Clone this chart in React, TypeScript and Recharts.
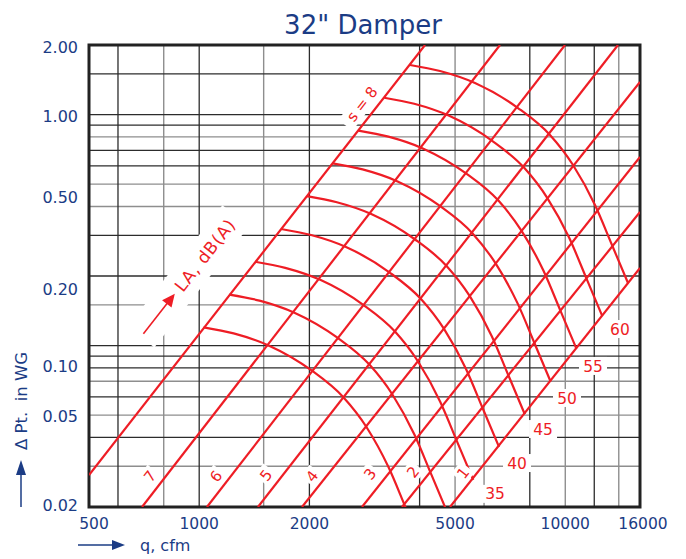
import React from 'react'
import {
  LineChart, Line, XAxis, YAxis, CartesianGrid,
  ReferenceArea, ReferenceDot,
} from 'recharts'

const NAVY = '#1b3c85'
const RED = '#ee1d25'
const FONT = '"DejaVu Sans", Verdana, sans-serif'

const qTicks = [500, 1000, 2000, 5000, 10000, 16000]
const dpTicks = [0.02, 0.05, 0.1, 0.2, 0.5, 1, 2]

// the printed tick texts sit a little off their grid lines in the original
const qTickShift: Record<number, number> = { 500: 5, 16000: 3 }
const dpTickShift: Record<number, number> = { 2: 2, 1: 1.5, 0.5: 13, 0.2: 13, 0.1: 21, 0.05: 1, 0.02: -2 }

const qGridDark = [600, 1000, 2000, 4000, 8000, 12000]
const qGridLight = [800, 1500, 5000, 6000, 10000, 14000]
const dpGridDark = [1.5, 1, 0.9, 0.7, 0.6, 0.3, 0.2, 0.1, 0.09, 0.08, 0.06, 0.04]
const dpGridLight = [0.8, 0.5, 0.4, 0.15, 0.07, 0.05, 0.03]

const zip = (q: number[], dp: number[]) => q.map((v, i) => ({ q: v, dp: dp[i] }))

// damper position lines s = 1..8, read where they meet the plot edges
const s8 = zip([500, 4139], [0.0275, 2])
const s7 = zip([698, 6632], [0.02, 2])
const s6 = zip([1050, 9983], [0.02, 2])
const s5 = zip([1447, 13931], [0.02, 2])
const s4 = zip([1909, 16000], [0.02, 1.383])
const s3 = zip([2784, 16000], [0.02, 0.655])
const s2 = zip([3581, 16000], [0.02, 0.3786])
const s1 = zip([4843, 16000], [0.02, 0.2166])

// sound level curves LA, dB(A)
const arc65 = zip([3766, 4548, 5667, 7428, 9083, 10498, 12055, 13416, 14836],
  [1.639, 1.543, 1.369, 1.067, 0.8155, 0.6047, 0.4059, 0.2724, 0.1865])
const arc60 = zip([3202, 3867, 4818, 6315, 7723, 8926, 10249, 11406, 12614],
  [1.182, 1.113, 0.9872, 0.7694, 0.5881, 0.4361, 0.2927, 0.1964, 0.1345])
const arc55 = zip([2722, 3288, 4096, 5369, 6566, 7589, 8714, 9698, 10724],
  [0.8523, 0.8024, 0.7119, 0.5548, 0.4241, 0.3145, 0.2111, 0.1416, 0.097])
const arc50 = zip([2315, 2795, 3483, 4565, 5582, 6452, 7409, 8245, 9118],
  [0.6146, 0.5786, 0.5134, 0.4001, 0.3058, 0.2268, 0.1522, 0.1021, 0.0699])
const arc45 = zip([1968, 2377, 2961, 3881, 4746, 5485, 6299, 7010, 7752],
  [0.4432, 0.4172, 0.3702, 0.2885, 0.2205, 0.1636, 0.1098, 0.0736, 0.0504])
const arc40 = zip([1673, 2021, 2518, 3300, 4035, 4664, 5356, 5960, 6591],
  [0.3196, 0.3009, 0.267, 0.208, 0.159, 0.118, 0.0792, 0.0531, 0.0364])
const arc35 = zip([1422, 1718, 2141, 2806, 3431, 3965, 4553, 5067, 5604],
  [0.2305, 0.217, 0.1925, 0.15, 0.1147, 0.0851, 0.0571, 0.0383, 0.0262])
const arc30 = zip([1209, 1461, 1820, 2385, 2917, 3371, 3871, 4308, 4764],
  [0.1662, 0.1565, 0.1388, 0.1082, 0.0827, 0.0614, 0.0412, 0.0276, 0.0189])
const arc25 = zip([1028, 1242, 1547, 2028, 2480, 2866, 3291, 3663, 4051],
  [0.1199, 0.1129, 0.1001, 0.078, 0.0596, 0.0443, 0.0297, 0.0199, 0.0136])

const positionLines = [s8, s7, s6, s5, s4, s3, s2, s1]
const soundArcs = [arc65, arc60, arc55, arc50, arc45, arc40, arc35, arc30, arc25]

// where the labels are printed
const positionTags = [
  { text: '7', q: 734, dp: 0.0272 },
  { text: '6', q: 1111, dp: 0.0272 },
  { text: '5', q: 1522, dp: 0.0275 },
  { text: '4', q: 2033, dp: 0.0272 },
  { text: '3', q: 2928, dp: 0.0278 },
  { text: '2', q: 3838, dp: 0.0284 },
  { text: '1', q: 5254, dp: 0.0281 },
]
const soundTags = [
  { text: '35', q: 6428, dp: 0.0228 },
  { text: '40', q: 7382, dp: 0.031 },
  { text: '45', q: 8695, dp: 0.0435 },
  { text: '50', q: 10109, dp: 0.0593 },
  { text: '55', q: 11905, dp: 0.0816 },
  { text: '60', q: 14107, dp: 0.1179 },
]

function QTick({ x, y, payload }: any) {
  const v = payload.value
  return (
    <text x={x + (qTickShift[v] ?? 0)} y={y + 21.6} textAnchor="middle"
      fill={NAVY} fontSize={15.5} fontFamily={FONT}>{v}</text>
  )
}

function DpTick({ x, y, payload }: any) {
  const v = payload.value
  return (
    <text x={x - 11} y={y + (dpTickShift[v] ?? 0) + 5.8} textAnchor="end"
      fill={NAVY} fontSize={16} fontFamily={FONT}>{Number(v).toFixed(2)}</text>
  )
}

function SlantTag({ cx, cy, text, w }: any) {
  return (
    <g transform={`rotate(-52 ${cx} ${cy})`}>
      <rect x={cx - w / 2} y={cy - 9} width={w} height={18} fill="#fff" />
      <text x={cx} y={cy} dy="0.36em" textAnchor="middle" fill={RED}
        fontSize={15} fontFamily={FONT}>{text}</text>
    </g>
  )
}

function SoundTag({ cx, cy, text }: any) {
  return (
    <g>
      <rect x={cx - 14} y={cy - 9} width={28} height={18} fill="#fff" />
      <text x={cx} y={cy} dy="0.36em" textAnchor="middle" fill={RED}
        fontSize={15.5} fontFamily={FONT}>{text}</text>
    </g>
  )
}

function LaTag({ cx, cy }: any) {
  return (
    <g transform={`rotate(-52 ${cx} ${cy})`}>
      <rect x={cx - 104} y={cy - 17} width={154} height={34} fill="#fff" />
      <line x1={cx - 100} y1={cy} x2={cx - 60} y2={cy} stroke={RED} strokeWidth={1.6} />
      <polygon points={`${cx - 49},${cy} ${cx - 62},${cy - 6} ${cx - 62},${cy + 6}`} fill={RED} />
      <text x={cx} y={cy} dy="0.36em" textAnchor="middle" fill={RED}
        fontSize={17} letterSpacing={0.8} fontFamily={FONT}>LA, dB(A)</text>
    </g>
  )
}

export default function App() {
  return (
    <div style={{ position: 'relative', width: 670, height: 551 }}>
      <LineChart width={670} height={545} margin={{ top: 37, right: 38, bottom: 0, left: 0 }}>
        <CartesianGrid stroke="#8e8e8e" strokeWidth={1.4}
          horizontalValues={dpGridLight} verticalValues={qGridLight} />
        <CartesianGrid stroke="#2c2c2c" strokeWidth={1.3}
          horizontalValues={dpGridDark} verticalValues={qGridDark} />
        <XAxis type="number" dataKey="q" scale="log" domain={[500, 16000]} ticks={qTicks}
          allowDataOverflow interval={0} axisLine={false} tickLine={false}
          tickSize={0} tickMargin={0} height={46} tick={(p: any) => <QTick {...p} />} />
        <YAxis type="number" dataKey="dp" scale="log" domain={[0.02, 2]} ticks={dpTicks}
          allowDataOverflow interval={0} axisLine={false} tickLine={false}
          tickSize={0} tickMargin={0} width={81} tick={(p: any) => <DpTick {...p} />} />
        {positionLines.map((d, i) => (
          <Line key={`s${i}`} data={d} dataKey="dp" type="linear" stroke={RED}
            strokeWidth={2.2} dot={false} activeDot={false} isAnimationActive={false} />
        ))}
        {soundArcs.map((d, i) => (
          <Line key={`a${i}`} data={d} dataKey="dp" type="monotoneX" stroke={RED}
            strokeWidth={2.2} dot={false} activeDot={false} isAnimationActive={false} />
        ))}
        <ReferenceArea x1={500} x2={16000} y1={0.02} y2={2} fill="none"
          stroke="#222" strokeWidth={3} />
        {positionTags.map((t) => (
          <ReferenceDot key={t.text} x={t.q} y={t.dp} r={0}
            shape={(p: any) => <SlantTag cx={p.cx} cy={p.cy} text={t.text} w={15} />} />
        ))}
        <ReferenceDot x={2784} y={1.111} r={0}
          shape={(p: any) => <SlantTag cx={p.cx} cy={p.cy} text="s = 8" w={54} />} />
        {soundTags.map((t) => (
          <ReferenceDot key={t.text} x={t.q} y={t.dp} r={0}
            shape={(p: any) => <SoundTag cx={p.cx} cy={p.cy} text={t.text} />} />
        ))}
        <ReferenceDot x={1037} y={0.2465} r={0}
          shape={(p: any) => <LaTag cx={p.cx} cy={p.cy} />} />
      </LineChart>
      <svg width={670} height={551}
        style={{ position: 'absolute', left: 0, top: 0, pointerEvents: 'none' }}>
        <text x={355} y={26} textAnchor="middle" fill={NAVY} fontSize={26} fontFamily={FONT}>
          32" Damper
        </text>
        <line x1={13} y1={467} x2={13} y2={499} stroke={NAVY} strokeWidth={1.5} />
        <polygon points="13,452 8,467 18,467" fill={NAVY} />
        <text x={13} y={393} transform="rotate(-90 13 393)" dy="0.36em" textAnchor="middle"
          fill={NAVY} fontSize={16.5} fontFamily={FONT} style={{ whiteSpace: 'pre' }}>
          {'Δ Pt.  in WG'}
        </text>
        <line x1={70} y1={537} x2={106} y2={537} stroke={NAVY} strokeWidth={1.5} />
        <polygon points="104,532 104,542 117,537" fill={NAVY} />
        <text x={132} y={537} dy="0.36em" fill={NAVY} fontSize={16} fontFamily={FONT}>
          q, cfm
        </text>
      </svg>
    </div>
  )
}
